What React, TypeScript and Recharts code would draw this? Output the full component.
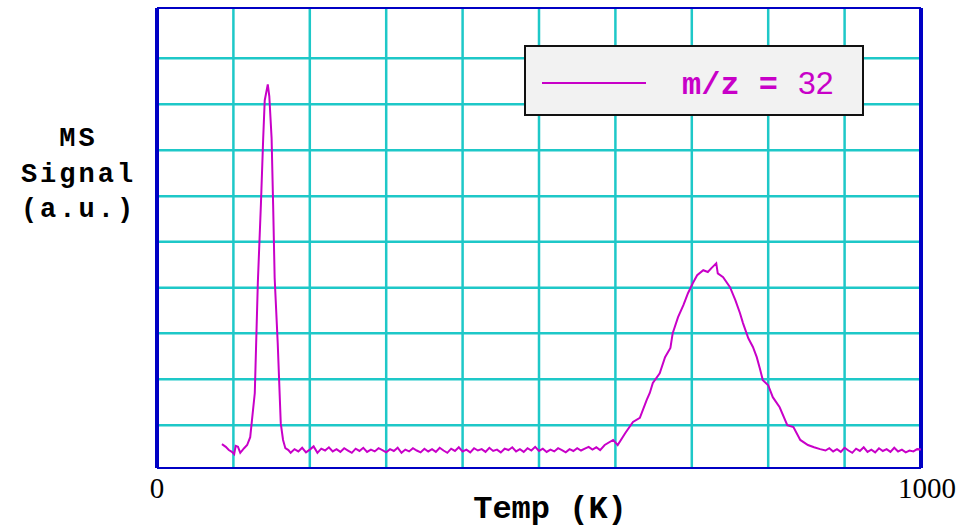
import {
    Legend,
    Line,
    LineChart,
    ReferenceLine,
    XAxis,
    YAxis,
} from 'recharts'

// temperature (K) of each sample
const temps = [
    85, 90, 94, 98, 101, 103, 106, 109, 114, 118, 122, 124, 128, 132, 136, 139,
    141, 145, 147, 150, 152, 154, 158, 162, 165, 168, 172,
    175, 180, 185, 190, 195, 200, 205, 210, 215, 220, 225, 230, 235, 240, 245,
    250, 255, 260, 265, 270, 275, 280, 285, 290, 295, 300, 305, 310, 315, 320,
    325, 330, 335, 340, 345, 350, 355, 360, 365, 370, 375, 380, 385, 390, 395,
    400, 405, 410, 415, 420, 425, 430, 435, 440, 445, 450, 455, 460, 465, 470,
    475, 480, 485, 490, 495, 500, 505, 510, 515, 520, 525, 530, 535, 540, 545,
    550, 555, 560, 565, 570, 575,
    580, 586, 597, 603, 613, 623, 632, 641, 645, 649, 658, 665, 672, 675, 682,
    689, 695, 702, 707, 715, 721, 726, 732, 734, 741, 750, 757, 763, 767, 774,
    780, 785, 789, 793, 800, 806, 815, 825, 833, 842, 852, 860, 868,
    875, 880, 885, 890, 895, 900, 905, 910, 915, 920, 925, 930, 935, 940, 945,
    950, 955, 960, 965, 970, 975, 980, 985, 990, 995, 1000,
]

// m/z = 32 signal (a.u.)
const signal = [
    0.52, 0.46, 0.39, 0.35, 0.3, 0.48, 0.46, 0.33, 0.43, 0.5, 0.67, 0.99, 1.63,
    4.04, 5.73, 7.17, 7.99, 8.34, 8.08, 7.17, 5.73, 4.13, 2.72, 0.97, 0.61, 0.43,
    0.39,
    0.33, 0.41, 0.36, 0.44, 0.34, 0.4, 0.47, 0.33, 0.42, 0.38, 0.45, 0.36, 0.41,
    0.35, 0.43, 0.38, 0.33, 0.42, 0.37, 0.44, 0.35, 0.4, 0.36, 0.43, 0.39, 0.34,
    0.41, 0.37, 0.44, 0.33, 0.4, 0.36, 0.43, 0.38, 0.34, 0.42, 0.36, 0.41, 0.35,
    0.44, 0.38, 0.33, 0.42, 0.37, 0.45, 0.36, 0.4, 0.34, 0.43, 0.38, 0.41, 0.35,
    0.44, 0.37, 0.4, 0.34, 0.42, 0.39, 0.45, 0.36, 0.41, 0.35, 0.43, 0.38, 0.46,
    0.37, 0.42, 0.35, 0.4, 0.36, 0.43, 0.39, 0.34, 0.41, 0.37, 0.43, 0.38, 0.42,
    0.46, 0.4, 0.45,
    0.39, 0.5, 0.61, 0.5, 0.76, 1.0, 1.09, 1.48, 1.63, 1.85, 2.06, 2.41, 2.61,
    2.93, 3.28, 3.54, 3.8, 4.04, 4.19, 4.3, 4.26, 4.35, 4.45, 4.23, 4.15, 3.93,
    3.65, 3.37, 3.15, 2.82, 2.63, 2.41, 2.17, 1.91, 1.8, 1.54, 1.32, 0.93, 0.89,
    0.61, 0.5, 0.45, 0.41,
    0.38, 0.43, 0.36, 0.41, 0.35, 0.44, 0.38, 0.33, 0.42, 0.37, 0.45, 0.35, 0.4,
    0.34, 0.43, 0.37, 0.41, 0.35, 0.44, 0.36, 0.4, 0.34, 0.38, 0.36, 0.41, 0.4,
]

const xTicks = [0, 1000]
const gridTemps = [100, 200, 300, 400, 500, 600, 700, 800, 900]
const gridSignals = [0.93, 1.93, 2.93, 3.92, 4.92, 5.91, 6.91, 7.91, 8.91]
const seriesName = 'm/z = 32'

const data = temps.map((t, i) => ({ temp: t, signal: signal[i] }))

const GRID = '#1ec8c8'
const FRAME = '#0000c4'
const TRACE = '#c800c8'
const MONO = '"Liberation Mono", "DejaVu Sans Mono", monospace'
const SERIF = '"Liberation Serif", serif'

function YLabel({ viewBox }: any) {
    const cx = viewBox.x + viewBox.width / 2
    return (
        <text
            x={cx}
            y={146}
            textAnchor="middle"
            fontFamily={MONO}
            fontWeight="bold"
            fontSize={27}
            letterSpacing={3}
            fill="#000"
        >
            <tspan x={cx}>MS</tspan>
            <tspan x={cx} dy={36}>Signal</tspan>
            <tspan x={cx} dy={35}>(a.u.)</tspan>
        </text>
    )
}

function XLabel({ viewBox }: any) {
    return (
        <text
            x={viewBox.x + viewBox.width / 2 + 11}
            y={viewBox.y + 50}
            textAnchor="middle"
            fontFamily={MONO}
            fontWeight="bold"
            fontSize={32}
            fill="#000"
        >
            Temp (K)
        </text>
    )
}

function XTick({ x, y, payload }: any) {
    const shift = payload.value === 1000 ? 6 : 0
    return (
        <text
            x={x + shift}
            y={y + 22}
            textAnchor="middle"
            fontFamily={SERIF}
            fontSize={29}
            fill="#000"
        >
            {payload.value}
        </text>
    )
}

function LegendBox() {
    return (
        <div
            style={{
                boxSizing: 'border-box',
                width: 340,
                height: 71,
                border: '2px solid #111',
                background: '#f2f2f2',
                display: 'flex',
                alignItems: 'center',
            }}
        >
            <svg width={330} height={67}>
                <line x1={16} x2={120} y1={36} y2={36} stroke={TRACE} strokeWidth={2} />
                <text x={156} y={47} fill={TRACE} fontSize={32}>
                    <tspan fontFamily={MONO} fontWeight="bold">m/z =</tspan>
                    <tspan fontFamily='"Liberation Sans", Arial, sans-serif' dx={20}>32</tspan>
                </text>
            </svg>
        </div>
    )
}

export default function App() {
    return (
        <div style={{ position: 'absolute', left: 0, top: 0, background: '#fff' }}>
            <LineChart
                width={967}
                height={529}
                data={data}
                margin={{ top: 8, right: 46, bottom: 0, left: 0 }}
            >
                <XAxis
                    dataKey="temp"
                    type="number"
                    domain={[0, 1000]}
                    ticks={xTicks}
                    height={61}
                    axisLine={false}
                    tickLine={false}
                    tick={<XTick />}
                    label={<XLabel />}
                />
                <YAxis
                    type="number"
                    domain={[0, 10]}
                    width={157}
                    tick={false}
                    axisLine={false}
                    tickLine={false}
                    label={<YLabel />}
                />
                {gridTemps.map((t) => (
                    <ReferenceLine key={'gx' + t} x={t} stroke={GRID} strokeWidth={2.5} />
                ))}
                {gridSignals.map((s) => (
                    <ReferenceLine key={'gy' + s} y={s} stroke={GRID} strokeWidth={2.5} />
                ))}
                <ReferenceLine x={0} stroke={FRAME} strokeWidth={4} />
                <ReferenceLine x={1000} stroke={FRAME} strokeWidth={4} />
                <ReferenceLine y={10} stroke={FRAME} strokeWidth={2} />
                <ReferenceLine y={0} stroke={FRAME} strokeWidth={2} />
                <Line
                    dataKey="signal"
                    name={seriesName}
                    type="linear"
                    stroke={TRACE}
                    strokeWidth={2}
                    dot={false}
                    isAnimationActive={false}
                />
                <Legend
                    layout="horizontal"
                    verticalAlign="middle"
                    align="center"
                    content={() => <LegendBox />}
                    wrapperStyle={{ left: 524, top: 45, width: 340, height: 71 }}
                />
            </LineChart>
        </div>
    )
}
